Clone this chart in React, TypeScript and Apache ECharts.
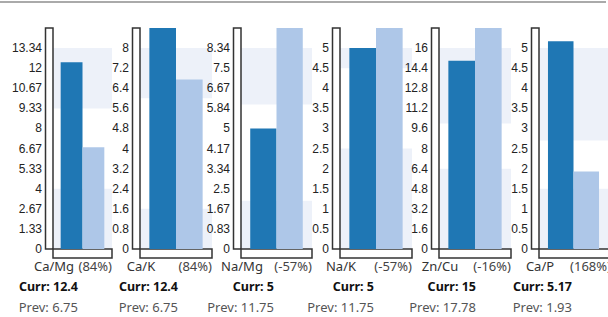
import React, { useEffect, useRef } from "react";
import * as echarts from "echarts";

const ratios = ["Ca/Mg", "Ca/K", "Na/Mg", "Na/K", "Zn/Cu", "Ca/P"];
const currValues = [12.4, 12.4, 5, 5, 15, 5.17];
const prevValues = [6.75, 6.75, 11.75, 11.75, 17.78, 1.93];
const changeLabels = ["(84%)", "(84%)", "(-57%)", "(-57%)", "(-16%)", "(168%)"];
const axisIntervals = [1.3336, 0.8, 0.834, 0.5, 1.6, 0.5];
const tickLabels = [
  ["0", "1.33", "2.67", "4", "5.33", "6.67", "8", "9.33", "10.67", "12", "13.34"],
  ["0", "0.8", "1.6", "2.4", "3.2", "4", "4.8", "5.6", "6.4", "7.2", "8"],
  ["0", "0.83", "1.67", "2.5", "3.34", "4.17", "5", "5.84", "6.67", "7.5", "8.34"],
  ["0", "0.5", "1", "1.5", "2", "2.5", "3", "3.5", "4", "4.5", "5"],
  ["0", "1.6", "3.2", "4.8", "6.4", "8", "9.6", "11.2", "12.8", "14.4", "16"],
  ["0", "0.5", "1", "1.5", "2", "2.5", "3", "3.5", "4", "4.5", "5"],
];
const lowBands = [
  [0, 4],
  [0, 1.6],
  [0, 2],
  [0, 2.5],
  [0, 6.4],
  [0, 1.5],
];
const highBands = [
  [9.33, 13.34],
  [6, 8],
  [6, 8.34],
  [4.5, 5],
  [10, 16],
  [2.7, 5],
];

// layout
const W = 608;
const H = 317;
const GRID_TOP = 28;
const GRID_BOTTOM_Y = 249;
const gridLefts = [53, 140, 241, 340, 439, 539];
const gridWidths = [59, 72, 71, 72, 72, 72];
const statRight = [78, 178, 274, 374, 476, 572];

const CURR_COLOR = "#1f77b4";
const PREV_COLOR = "#aec7e8";
const BAND_COLOR = "#edf1f9";
const FRAME = "#333";

export default function App() {
  const ref = useRef<HTMLDivElement>(null);

  useEffect(() => {
    if (!ref.current) return;
    const chart = echarts.init(ref.current, undefined, { renderer: "svg" });

    const grids: any[] = [];
    const xAxes: any[] = [];
    const yAxes: any[] = [];
    const series: any[] = [];
    const graphics: any[] = [];

    graphics.push({
      type: "rect",
      shape: { x: 0, y: 1, width: W - 2, height: 2 },
      style: { fill: "#aaaaaa" },
      z: 0,
    });

    ratios.forEach((name, i) => {
      const left = gridLefts[i];
      const width = gridWidths[i];
      const interval = axisIntervals[i];
      grids.push({
        left,
        width,
        top: GRID_TOP,
        bottom: H - GRID_BOTTOM_Y,
      });
      xAxes.push({
        type: "category",
        gridIndex: i,
        data: [name],
        axisLine: { show: false },
        axisTick: { show: false },
        axisLabel: { show: false },
      });
      const labels = tickLabels[i];
      yAxes.push({
        type: "value",
        gridIndex: i,
        min: 0,
        max: interval * 11,
        interval,
        z: 6,
        axisLine: { show: false },
        axisTick: { show: false },
        splitLine: { show: false },
        axisLabel: {
          margin: 11,
          color: "#222",
          fontSize: 12,
          fontFamily: "'Liberation Sans', Arial, sans-serif",
          showMaxLabel: false,
          formatter: (v: number) => {
            const k = Math.round(v / interval);
            return labels[k] ?? "";
          },
        },
      });
      series.push({
        type: "line",
        xAxisIndex: i,
        yAxisIndex: i,
        data: [],
        z: 1,
        silent: true,
        markArea: {
          silent: true,
          itemStyle: { color: BAND_COLOR },
          data: [
            [{ yAxis: lowBands[i][0] }, { yAxis: lowBands[i][1] }],
            [{ yAxis: highBands[i][0] }, { yAxis: highBands[i][1] }],
          ],
        },
      });
      series.push({
        type: "bar",
        name: "Curr",
        xAxisIndex: i,
        yAxisIndex: i,
        data: [currValues[i]],
        barWidth: "37%",
        barGap: "0%",
        itemStyle: { color: CURR_COLOR },
        z: 3,
      });
      series.push({
        type: "bar",
        name: "Prev",
        xAxisIndex: i,
        yAxisIndex: i,
        data: [prevValues[i]],
        barWidth: "37%",
        barGap: "0%",
        itemStyle: { color: PREV_COLOR },
        z: 3,
      });

      // frame
      graphics.push({
        type: "rect",
        shape: { x: left - 7.5, y: GRID_TOP, width: 7.5, height: GRID_BOTTOM_Y - GRID_TOP },
        style: { fill: "#fff", stroke: FRAME, lineWidth: 1.5 },
        z: 2,
      });
      graphics.push({
        type: "rect",
        shape: { x: left, y: GRID_BOTTOM_Y, width, height: 9 },
        style: { fill: "#fff", stroke: FRAME, lineWidth: 1.5 },
        z: 2,
      });
      // texts
      graphics.push({
        type: "text",
        x: left + 1,
        y: 266,
        style: {
          text: name,
          fill: "#333",
          font: "13px 'Noto Sans', sans-serif",
          textAlign: "center",
          textVerticalAlign: "middle",
        },
        z: 4,
      });
      graphics.push({
        type: "text",
        x: left + width,
        y: 266,
        style: {
          text: changeLabels[i],
          fill: "#444",
          font: "13px 'Noto Sans', sans-serif",
          textAlign: "right",
          textVerticalAlign: "middle",
        },
        z: 4,
      });
      graphics.push({
        type: "text",
        x: statRight[i],
        y: 286,
        style: {
          text: `Curr: ${currValues[i]}`,
          fill: "#111",
          font: "bold 12.5px 'Noto Sans', sans-serif",
          textAlign: "right",
          textVerticalAlign: "middle",
        },
        z: 4,
      });
      graphics.push({
        type: "text",
        x: statRight[i],
        y: 307,
        style: {
          text: `Prev: ${prevValues[i]}`,
          fill: "#555",
          font: "13px 'Noto Sans', sans-serif",
          textAlign: "right",
          textVerticalAlign: "middle",
        },
        z: 4,
      });
    });

    chart.setOption({
      animation: false,
      grid: grids,
      xAxis: xAxes,
      yAxis: yAxes,
      series,
      graphic: { elements: graphics },
    });

    return () => chart.dispose();
  }, []);

  return (
    <div
      ref={ref}
      style={{ position: "fixed", left: 0, top: 0, width: W, height: H, background: "#fff" }}
    />
  );
}
